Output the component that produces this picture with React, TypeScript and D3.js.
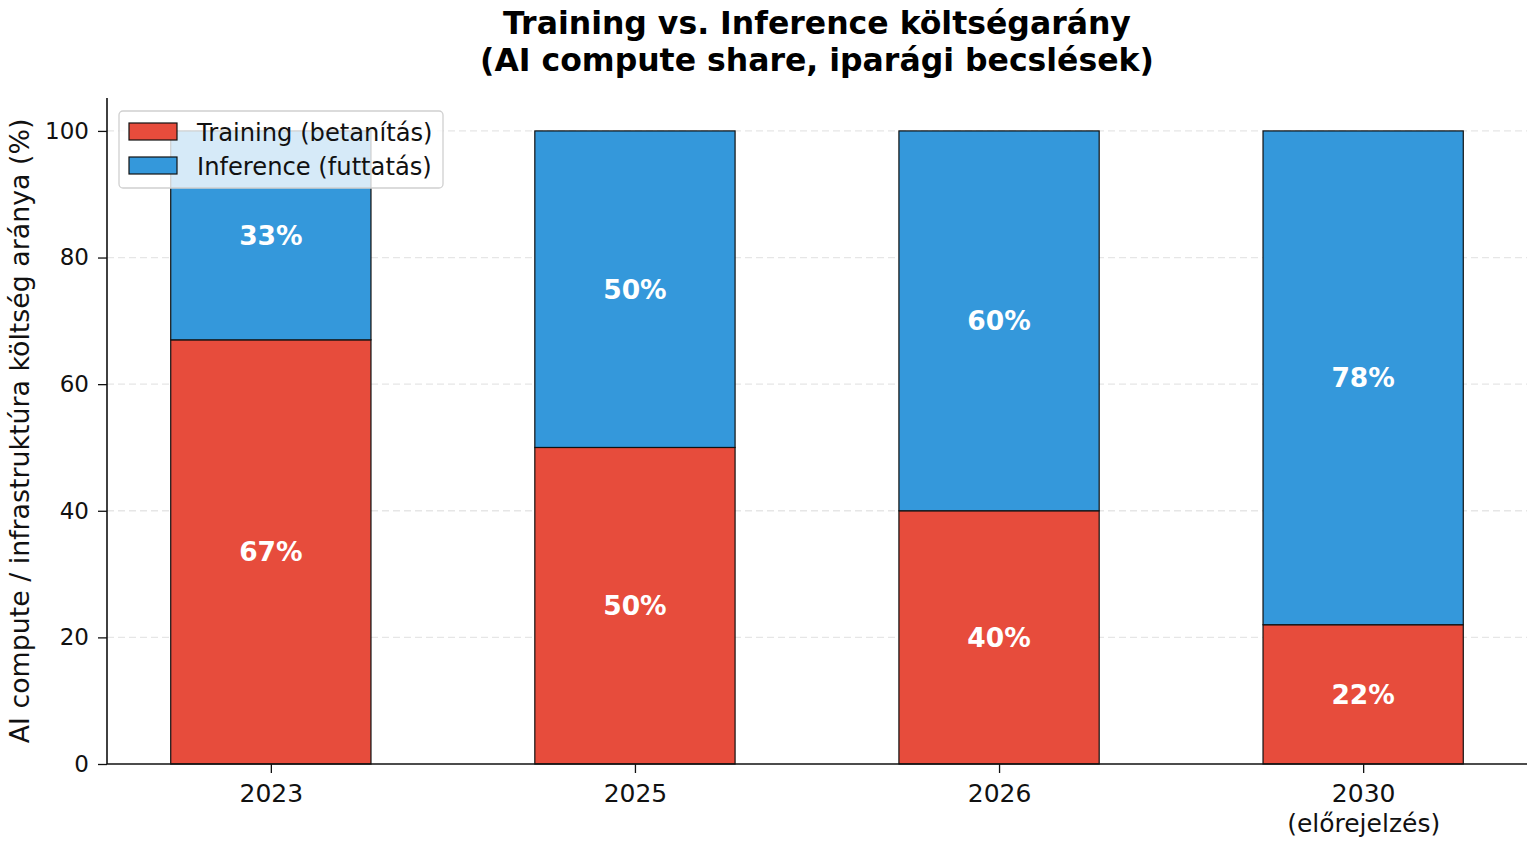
import { useRef, useEffect } from 'react'
import * as d3 from 'd3'

const years = ['2023', '2025', '2026', '2030\n(előrejelzés)']
const training = [67, 50, 40, 22]
const inference = [33, 50, 60, 78]
const yTicks = [0, 20, 40, 60, 80, 100]
const seriesNames = ['Training (betanítás)', 'Inference (futtatás)']
const colors = ['#e74c3c', '#3498db']

const W = 1535
const H = 845
const FONT = 'DejaVu Sans, sans-serif'

export default function App() {
  const ref = useRef<SVGSVGElement>(null)

  useEffect(() => {
    if (!ref.current) return
    const svg = d3.select(ref.current)
    svg.selectAll('*').remove()

    const left = 107
    const right = 1527
    const top = 98
    const bottom = 764

    const x = d3.scaleLinear().domain([-0.45, years.length - 0.55]).range([left, right])
    const y = d3.scaleLinear().domain([0, 105.2]).range([bottom, top])
    const barW = x(0.55) - x(0)

    svg.append('rect').attr('width', W).attr('height', H).attr('fill', '#fff')

    // title
    const title = svg.append('text')
      .attr('text-anchor', 'middle')
      .attr('font-family', FONT)
      .attr('font-weight', 'bold')
      .attr('font-size', 31.5)
      .attr('fill', '#000')
    title.append('tspan').attr('x', (left + right) / 2).attr('y', 34).text('Training vs. Inference költségarány')
    title.append('tspan').attr('x', (left + right) / 2).attr('y', 71).text('(AI compute share, iparági becslések)')

    // grid
    svg.append('g').selectAll('line')
      .data(yTicks.filter(d => d > 0))
      .enter()
      .append('line')
      .attr('x1', left)
      .attr('x2', right)
      .attr('y1', d => y(d))
      .attr('y2', d => y(d))
      .attr('stroke', '#e6e6e6')
      .attr('stroke-width', 1.3)
      .attr('stroke-dasharray', '7,4')

    // bars
    const stacks = [training, inference]
    stacks.forEach((vals, si) => {
      svg.append('g').selectAll('rect')
        .data(vals)
        .enter()
        .append('rect')
        .attr('x', (_, i) => x(i) - barW / 2)
        .attr('width', barW)
        .attr('y', (d, i) => y(d + (si === 1 ? training[i] : 0)))
        .attr('height', d => y(0) - y(d))
        .attr('fill', colors[si])
        .attr('stroke', '#111')
        .attr('stroke-width', 1.2)
    })

    // value labels
    stacks.forEach((vals, si) => {
      svg.append('g').selectAll('text')
        .data(vals)
        .enter()
        .append('text')
        .attr('x', (_, i) => x(i))
        .attr('y', (d, i) => y((si === 1 ? training[i] : 0) + d / 2))
        .attr('dy', '0.36em')
        .attr('text-anchor', 'middle')
        .attr('font-family', FONT)
        .attr('font-weight', 'bold')
        .attr('font-size', 26.5)
        .attr('fill', '#fff')
        .text(d => `${d}%`)
    })

    // y axis
    const yAxis = svg.append('g')
      .attr('transform', `translate(${left},0)`)
      .call(d3.axisLeft(y).tickValues(yTicks).tickSize(9).tickPadding(9).tickFormat(d3.format('d')))
    yAxis.select('.domain').attr('d', `M0,${top}V${bottom}`).attr('stroke', '#111').attr('stroke-width', 1.6)
    yAxis.selectAll('.tick line').attr('stroke', '#111').attr('stroke-width', 1.3)
    yAxis.selectAll('.tick text').attr('font-family', FONT).attr('font-size', 23).attr('fill', '#111')

    // x axis
    const xAxis = svg.append('g')
      .attr('transform', `translate(0,${bottom})`)
      .call(d3.axisBottom(x).tickValues(d3.range(years.length)).tickSize(9).tickFormat(() => ''))
    xAxis.select('.domain').attr('d', `M${left},0H${right}`).attr('stroke', '#111').attr('stroke-width', 1.6)
    xAxis.selectAll('.tick line').attr('stroke', '#111').attr('stroke-width', 1.3)
    xAxis.selectAll('.tick').each(function (_, i) {
      const t = d3.select(this).select('text')
        .attr('font-family', FONT)
        .attr('font-size', 25)
        .attr('fill', '#111')
        .attr('dy', null)
        .attr('y', 0)
      years[i].split('\n').forEach((line, li) => {
        t.append('tspan').attr('x', 0).attr('y', 38 + li * 30).text(line)
      })
    })

    // y label
    svg.append('text')
      .attr('transform', `translate(29,${(top + bottom) / 2}) rotate(-90)`)
      .attr('text-anchor', 'middle')
      .attr('font-family', FONT)
      .attr('font-size', 26.8)
      .attr('fill', '#111')
      .text('AI compute / infrastruktúra költség aránya (%)')

    // legend
    const lg = svg.append('g').attr('transform', 'translate(119,111)')
    lg.append('rect')
      .attr('width', 324)
      .attr('height', 77)
      .attr('rx', 4)
      .attr('fill', '#fff')
      .attr('fill-opacity', 0.8)
      .attr('stroke', '#d0d0d0')
      .attr('stroke-width', 1.3)
    seriesNames.forEach((name, i) => {
      const row = lg.append('g').attr('transform', `translate(10,${12 + i * 34})`)
      row.append('rect')
        .attr('width', 48)
        .attr('height', 17)
        .attr('fill', colors[i])
        .attr('stroke', '#111')
        .attr('stroke-width', 1.2)
      row.append('text')
        .attr('x', 68)
        .attr('y', 9)
        .attr('dy', '0.36em')
        .attr('font-family', FONT)
        .attr('font-size', 24.2)
        .attr('fill', '#111')
        .text(name)
    })
  }, [])

  return <svg ref={ref} width={W} height={H} style={{ position: 'absolute', left: 0, top: 0 }} />
}
